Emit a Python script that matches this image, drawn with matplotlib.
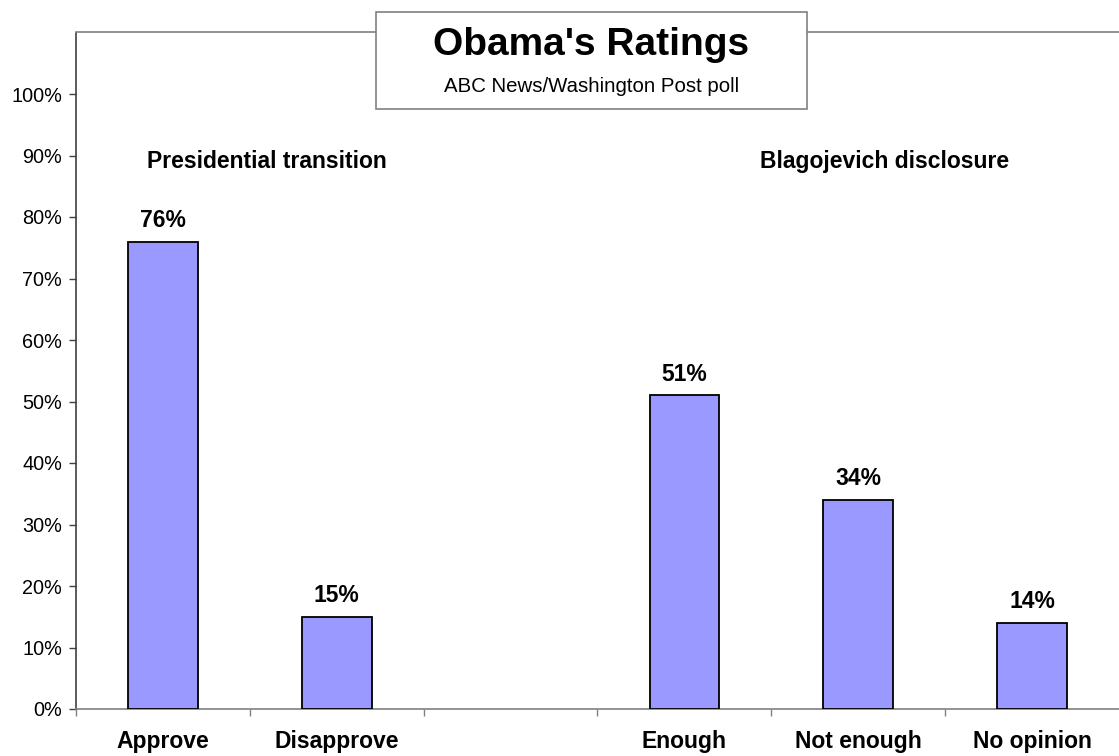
import matplotlib.pyplot as plt
from matplotlib.patches import Rectangle
from matplotlib.ticker import FixedLocator, PercentFormatter

plt.rcParams['font.family'] = ['Liberation Sans', 'DejaVu Sans']

# data
categories = ['Approve', 'Disapprove', '', 'Enough', 'Not enough', 'No opinion']
values = [76, 15, None, 51, 34, 14]
groups = ['Presidential transition', 'Blagojevich disclosure']
group_x = [0.6, 4.15]
yticks = list(range(0, 101, 10))

fig = plt.figure(figsize=(11.19, 7.56), dpi=100)
ax = fig.add_axes([76 / 1119, 47 / 756, 1 - 76 / 1119, 676.5 / 756])

xs = [i for i, v in enumerate(values) if v is not None]
vs = [v for v in values if v is not None]
ax.bar(xs, vs, width=0.4, color='#9999ff', edgecolor='black', linewidth=1.3, zorder=3)

for x, v in zip(xs, vs):
    ax.annotate('%d%%' % v, (x, v), xytext=(0, 7), textcoords='offset points',
                ha='center', va='bottom', fontsize=16.5, fontweight='bold')

for gx, g in zip(group_x, groups):
    ax.text(gx, 89, g, ha='center', va='center', fontsize=16.5, fontweight='bold')

ax.set_xlim(-0.5, 5.5)
ax.set_ylim(0, 110)
ax.yaxis.set_major_locator(FixedLocator(yticks))
ax.yaxis.set_major_formatter(PercentFormatter(decimals=0))
ax.tick_params(axis='y', labelsize=14.3, length=5, width=1, color='#404040', pad=5)

ax.set_xticks(range(len(categories)))
ax.set_xticklabels(categories, fontsize=16.5, fontweight='bold')
ax.set_xticks([i - 0.5 for i in range(len(categories))], minor=True)
ax.tick_params(axis='x', which='major', length=0, pad=15)
ax.tick_params(axis='x', which='minor', length=5, width=1, color='#808080')

ax.spines['right'].set_visible(False)
ax.spines['left'].set_color('#404040')
ax.spines['top'].set_color('#808080')
ax.spines['bottom'].set_color('#808080')
for s in ax.spines.values():
    s.set_linewidth(1.2)

# title box
fig.patches.append(Rectangle((376 / 1119, 647 / 756), 431 / 1119, 97 / 756,
                             transform=fig.transFigure, facecolor='white',
                             edgecolor='#808080', linewidth=1.2, zorder=5))
fig.text(591.5 / 1119, 711 / 756, "Obama's Ratings", ha='center', va='center',
         fontsize=28, fontweight='bold', zorder=6)
fig.text(591.5 / 1119, 670 / 756, 'ABC News/Washington Post poll', ha='center',
         va='center', fontsize=14.7, zorder=6)

fig.savefig('out.png', dpi=100)
